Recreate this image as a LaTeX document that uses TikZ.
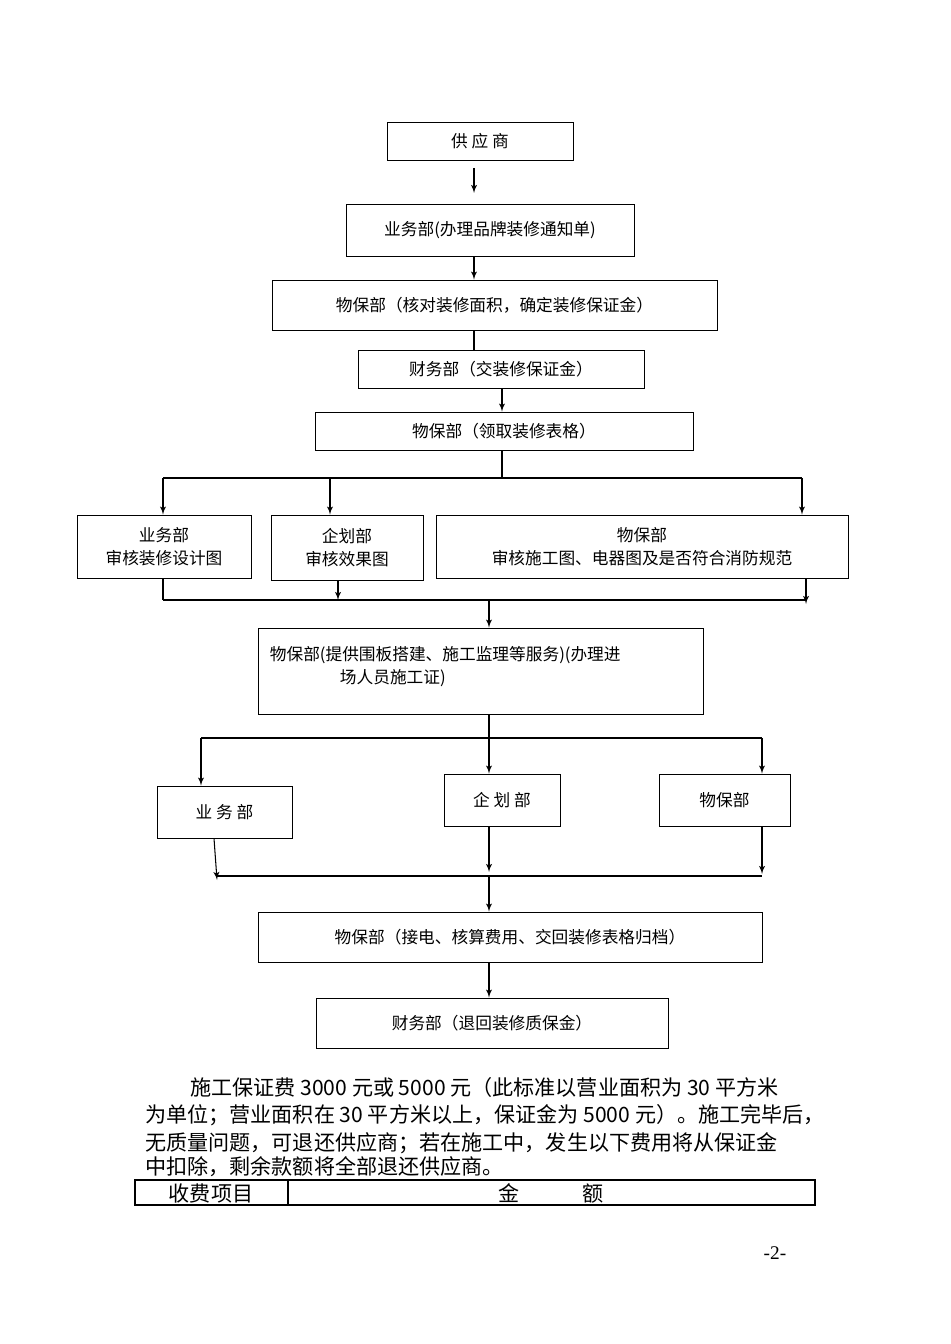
\documentclass[tikz,border=0pt]{standalone}
\usepackage{fontspec}
\setmainfont{Liberation Serif}
\newfontfamily\cjk{Noto Sans CJK SC}
\usetikzlibrary{arrows,positioning}

% box from pixel corners: name, x1, y1, x2, y2, text
\newcommand{\flowbox}[6]{%
  \node (#1) [box,minimum width={(#4-#2)*0.02cm},minimum height={(#5-#3)*0.02cm}]
    at ({(#2+#4)/2},{(#3+#5)/2}) {#6};}

\begin{document}
\begin{tikzpicture}[x=0.02cm,y=-0.02cm,>=latex',
    box/.style={draw,rectangle,inner sep=2pt,align=center,font=\cjk\fontsize{9.5}{13}\selectfont},
    line/.style={line width=0.6pt},
    para/.style={anchor=west,inner sep=0pt,font=\cjk\fontsize{12}{14}\selectfont}]
  \useasboundingbox (0,0) rectangle (950,1344);

  \flowbox{gys}{387}{122}{573}{160}{供\ 应\ 商}
  \flowbox{ywb1}{346}{204}{634}{256}{业务部(办理品牌装修通知单)}
  \flowbox{wbb1}{272}{280}{717}{330}{物保部（核对装修面积，确定装修保证金）}
  \flowbox{cwb1}{358}{350}{644}{388}{财务部（交装修保证金）}
  \flowbox{wbb2}{315}{412}{693}{450}{物保部（领取装修表格）}
  \flowbox{ywb2}{77}{515}{251}{578}{业务部\\审核装修设计图}
  \flowbox{qhb1}{271}{515}{423}{580}{企划部\\审核效果图}
  \flowbox{wbb3}{436}{515}{848}{578}{物保部\\审核施工图、电器图及是否符合消防规范}
  \flowbox{wbb4}{258}{628}{703}{714}{}
  \node[box,draw=none,anchor=north west,align=left] at (266,643)
    {物保部(提供围板搭建、施工监理等服务)(办理进\\\hspace*{4.2em}场人员施工证)};
  \flowbox{ywb3}{157}{786}{292}{838}{业\ 务\ 部}
  \flowbox{qhb2}{444}{774}{560}{826}{企\ 划\ 部}
  \flowbox{wbb5}{659}{774}{790}{826}{物保部}
  \flowbox{wbb6}{258}{912}{762}{962}{物保部（接电、核算费用、交回装修表格归档）}
  \flowbox{cwb2}{316}{998}{668}{1048}{财务部（退回装修质保金）}

  % connectors
  \coordinate (a1) at (474,168);
  \coordinate (a2) at (474,193);
  \draw[line,->] (a1) -- (a2);
  \draw[line,->] (ywb1.south -| 474,0) -- (wbb1.north -| 474,0);
  \draw[line] (wbb1.south -| 474,0) -- (cwb1.north -| 474,0);
  \draw[line,->] (cwb1.south -| 502,0) -- (wbb2.north -| 502,0);
  \coordinate (s1) at (502,478);
  \draw[line] (wbb2.south -| s1) -- (s1);
  \draw[line] (163,478) -- (802,478);
  \foreach \xx/\tgt in {163/ywb2,330/qhb1,802/wbb3}
    \draw[line,->] (\xx,478) -- (\tgt.north -| \xx,0);
  \draw[line] (163,600) -- (806,600);
  \draw[line] (ywb2.south -| 163,0) -- (163,600);
  \draw[line,->] (qhb1.south -| 338,0) -- (338,600);
  \draw[line,->] (wbb3.south -| 806,0) -- (806,604);
  \draw[line,->] (489,600) -- (wbb4.north -| 489,0);
  \draw[line] (wbb4.south -| 489,0) -- (489,738);
  \draw[line] (201,738) -- (762,738);
  \draw[line,->] (201,738) -- (ywb3.north -| 201,0);
  \draw[line,->] (489,738) -- (qhb2.north -| 489,0);
  \draw[line,->] (762,738) -- (wbb5.north -| 762,0);
  \draw[line,->] (ywb3.south -| 214,0) -- (217,880);
  \draw[line,->] (qhb2.south -| 489,0) -- (489,872);
  \draw[line,->] (wbb5.south -| 762,0) -- (762,874);
  \draw[line] (217,876) -- (762,876);
  \draw[line,->] (489,876) -- (wbb6.north -| 489,0);
  \draw[line,->] (wbb6.south -| 489,0) -- (cwb2.north -| 489,0);

  % text below
  \node[para] at (190,1087) {施工保证费 3000 元或 5000 元（此标准以营业面积为 30 平方米};
  \node[para] at (145,1115) {为单位；营业面积在 30 平方米以上，保证金为 5000 元）。施工完毕后，};
  \node[para] at (145,1143) {无质量问题，可退还供应商；若在施工中，发生以下费用将从保证金};
  \node[para] at (145,1167) {中扣除，剩余款额将全部退还供应商。};
  \draw[line] (135,1180) rectangle (815,1205);
  \draw[line] (288,1180) -- (288,1205);
  \node[para,anchor=center] at (211,1193) {收费项目};
  \node[para,anchor=center] at (551,1193) {金\hspace{3em}额};
  \node[font=\fontsize{11}{13}\selectfont] at (775,1253) {-2-};
\end{tikzpicture}
\end{document}
